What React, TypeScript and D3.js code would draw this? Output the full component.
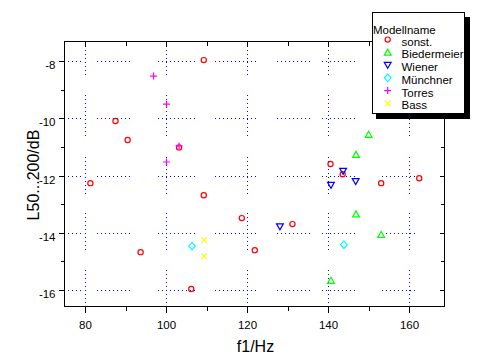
import React from "react";
import * as d3 from "d3";

// ---- data ----
const sonstF = [81.2, 87.4, 90.4, 109.2, 103.1, 109.2, 118.6, 93.6, 121.8, 106.1, 140.5, 143.5, 153.0, 131.1, 162.4];
const sonstL = [-12.25, -10.08, -10.74, -7.95, -11.0, -12.67, -13.47, -14.66, -14.59, -15.95, -11.58, -11.94, -12.25, -13.68, -12.08];
const biedF = [149.9, 146.8, 146.8, 153.0, 140.6];
const biedL = [-10.55, -11.25, -13.33, -14.05, -15.65];
const wienF = [143.6, 140.6, 146.7, 128.0];
const wienL = [-11.83, -12.32, -12.19, -13.77];
const muenF = [106.3, 143.8];
const muenL = [-14.45, -14.4];
const torrF = [96.8, 100.0, 100.0, 103.1];
const torrL = [-8.51, -9.49, -11.51, -10.95];
const bassF = [109.3, 109.3];
const bassL = [-14.25, -14.81];

const legendNames = ["sonst.", "Biedermeier", "Wiener", "Münchner", "Torres", "Bass"];
const xMajor = [80, 100, 120, 140, 160];
const xMinor = [90, 110, 130, 150];
const yMajor = [-8, -10, -12, -14, -16];
const yMinor = [-9, -11, -13, -15];

// ---- layout / style ----
const W = 490, H = 360;
const L = 64.5, R = 444.5, T = 41.5, B = 306.5;
const FONT = "'Liberation Sans', Arial, Helvetica, sans-serif";
// dotted grid segments (pixel ranges)
const hSegs = [[64, 82], [97, 133], [158, 195], [215, 257], [277, 313], [322, 358], [382, 418]];
const vSegs = [[42, 77], [95, 137], [157, 197], [213, 253], [270, 306]];

const x = d3.scaleLinear().domain([74.81, 168.64]).range([L, R]);
const y = d3.scaleLinear().domain([-16.559, -7.301]).range([B, T]);
const px = (v: number) => Math.round(x(v) - 0.5) + 0.5;
const py = (v: number) => Math.round(y(v) - 0.5) + 0.5;

type Kind = "circle" | "up" | "down" | "diamond" | "plus" | "cross";
const series: { kind: Kind; color: string; f: number[]; l: number[] }[] = [
  { kind: "circle", color: "#ff0000", f: sonstF, l: sonstL },
  { kind: "up", color: "#00ff00", f: biedF, l: biedL },
  { kind: "down", color: "#0000ff", f: wienF, l: wienL },
  { kind: "diamond", color: "#00ffff", f: muenF, l: muenL },
  { kind: "plus", color: "#ff00ff", f: torrF, l: torrL },
  { kind: "cross", color: "#ffff00", f: bassF, l: bassL },
];

function Marker({ kind, color, cx, cy }: { kind: Kind; color: string; cx: number; cy: number }) {
  const s = { fill: "none", stroke: color, strokeWidth: 1.2 };
  switch (kind) {
    case "circle":
      return <circle cx={cx} cy={cy} r={2.6} {...s} />;
    case "up":
      return <path d={`M${cx},${cy - 3.2}L${cx + 3.4},${cy + 2.8}L${cx - 3.4},${cy + 2.8}Z`} {...s} />;
    case "down":
      return <path d={`M${cx},${cy + 3.2}L${cx + 3.4},${cy - 2.8}L${cx - 3.4},${cy - 2.8}Z`} {...s} />;
    case "diamond":
      return <path d={`M${cx},${cy - 3.8}L${cx + 3.3},${cy}L${cx},${cy + 3.8}L${cx - 3.3},${cy}Z`} {...s} />;
    case "plus":
      return <path d={`M${cx - 3.5},${cy}H${cx + 3.5}M${cx},${cy - 3.5}V${cy + 3.5}`} {...s} />;
    case "cross":
      return <path d={`M${cx - 3},${cy - 3}L${cx + 3},${cy + 3}M${cx + 3},${cy - 3}L${cx - 3},${cy + 3}`} {...s} />;
  }
  return null;
}

export default function App() {
  const gridColor = "#0000ff";
  return (
    <svg width={W} height={H} style={{ position: "absolute", left: 0, top: 0, background: "#fff" }} fontFamily={FONT}>
      <rect x={0} y={0} width={W} height={H} fill="#fff" />
      {/* grid */}
      <g stroke={gridColor} strokeWidth={1} strokeDasharray="1 3" shapeRendering="crispEdges">
        {yMajor.map((v) =>
          hSegs.map(([a, b], i) => <line key={`h${v}-${i}`} x1={a} x2={b} y1={py(v)} y2={py(v)} />)
        )}
        {xMajor.map((v) =>
          vSegs.map(([a, b], i) => <line key={`v${v}-${i}`} x1={px(v)} x2={px(v)} y1={a} y2={b} />)
        )}
      </g>
      {/* points */}
      <g>
        {series.map((s) =>
          s.f.map((f, i) => <Marker key={`${s.kind}-${i}`} kind={s.kind} color={s.color} cx={x(f)} cy={y(s.l[i])} />)
        )}
      </g>
      {/* frame & ticks */}
      <g stroke="#000" strokeWidth={1} shapeRendering="crispEdges" fill="none">
        <rect x={L} y={T} width={R - L} height={B - T} />
        {xMajor.map((v) => (
          <g key={`xt${v}`}>
            <line x1={px(v)} x2={px(v)} y1={B} y2={B + 6} />
            <line x1={px(v)} x2={px(v)} y1={T} y2={T + 5} />
          </g>
        ))}
        {xMinor.map((v) => (
          <g key={`xm${v}`}>
            <line x1={px(v)} x2={px(v)} y1={B} y2={B + 4} />
            <line x1={px(v)} x2={px(v)} y1={T} y2={T + 4} />
          </g>
        ))}
        {yMajor.map((v) => (
          <g key={`yt${v}`}>
            <line x1={L - 6} x2={L} y1={py(v)} y2={py(v)} />
            <line x1={R - 5} x2={R} y1={py(v)} y2={py(v)} />
          </g>
        ))}
        {yMinor.map((v) => (
          <g key={`ym${v}`}>
            <line x1={L - 4} x2={L} y1={py(v)} y2={py(v)} />
            <line x1={R - 4} x2={R} y1={py(v)} y2={py(v)} />
          </g>
        ))}
      </g>
      {/* tick labels */}
      <g fontSize={11.5} fill="#000">
        {xMajor.map((v) => (
          <text key={`xl${v}`} x={px(v)} y={328.5} textAnchor="middle">{String(v)}</text>
        ))}
        {yMajor.map((v) => (
          <text key={`yl${v}`} x={55.5} y={py(v) + 7} textAnchor="end">{String(v)}</text>
        ))}
      </g>
      {/* axis titles */}
      <text x={255.5} y={351.5} textAnchor="middle" fontSize={16} fill="#000">f1/Hz</text>
      <text transform="translate(38.5,175) rotate(-90)" textAnchor="middle" fontSize={16} fill="#000">L50...200/dB</text>
      {/* legend */}
      <g>
        <rect x={376} y={17} width={94} height={102} fill="#000" />
        <rect x={372.5} y={12.5} width={92} height={101} fill="#fff" stroke="#000" strokeWidth={1} shapeRendering="crispEdges" />
        <text x={373} y={33.8} fontSize={11.5} fill="#000">Modellname</text>
        {series.map((s, i) => (
          <g key={`lg${i}`}>
            <Marker kind={s.kind} color={s.color} cx={387.7} cy={45.6 + i * 12.75 - 6} />
            <text x={401.5} y={45.6 + i * 12.75} fontSize={11.5} fill="#000">{legendNames[i]}</text>
          </g>
        ))}
      </g>
    </svg>
  );
}
